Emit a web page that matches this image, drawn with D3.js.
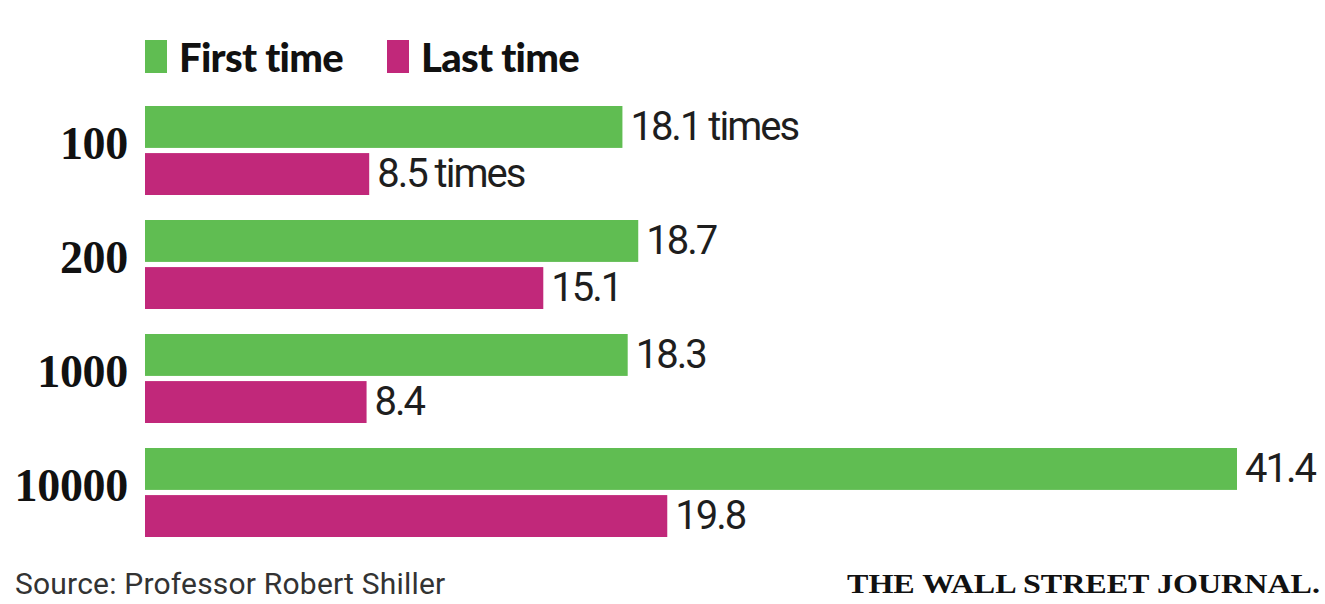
<!DOCTYPE html>
<html>
<head>
<meta charset="utf-8">
<script src="https://cdn.jsdelivr.net/npm/d3@7/dist/d3.min.js"></script>
<style>
  html, body { margin: 0; padding: 0; background: #fff; }
  svg { display: block; }
</style>
</head>
<body>
<svg id="chart" width="1325" height="604"></svg>
<script>
// Number of trials and how many times the stock repeated them
const categories = ["100", "200", "1000", "10000"];
const seriesNames = ["First time", "Last time"];
const firstTime = [18.1, 18.7, 18.3, 41.4];
const lastTime = [8.5, 15.1, 8.4, 19.8];
const valueLabels = [
  ["18.1 times", "18.7", "18.3", "41.4"],
  ["8.5 times", "15.1", "8.4", "19.8"]
];
const colors = ["#60bd52", "#c1287a"];

const svg = d3.select("#chart");
const values = [firstTime, lastTime];

const x = d3.scaleLinear().domain([0, 41.4]).range([145, 1237]);
const y = d3.scaleBand().domain(categories).range([106, 537]).paddingInner(25 / 114).paddingOuter(0);
const ySub = d3.scaleBand().domain(seriesNames).range([0, y.bandwidth()]).paddingInner(0.11);

const condensed = "Roboto, 'Liberation Sans', sans-serif";

// Legend
const legend = svg.append("g");
const legendX = [145, 387];
seriesNames.forEach((name, i) => {
  legend.append("rect")
    .attr("x", legendX[i]).attr("y", 40).attr("width", 22).attr("height", 33)
    .attr("fill", colors[i]);
  legend.append("text")
    .attr("x", legendX[i] + 34).attr("y", 72)
    .attr("font-family", "Lato, sans-serif").attr("font-weight", 900)
    .attr("font-size", 40).attr("letter-spacing", -0.7)
    .attr("fill", "#111")
    .text(name);
});

// Category labels
svg.append("g").selectAll("text").data(categories).join("text")
  .attr("x", 128)
  .attr("y", d => y(d) + y.bandwidth() / 2 + 8)
  .attr("text-anchor", "end")
  .attr("font-family", "'Liberation Serif', 'DejaVu Serif', serif")
  .attr("font-weight", "bold")
  .attr("font-size", 46)
  .attr("letter-spacing", -0.3)
  .attr("fill", "#111")
  .text(d => d);

// Bars and value labels
seriesNames.forEach((name, s) => {
  const g = svg.append("g");
  g.selectAll("rect").data(categories).join("rect")
    .attr("x", x(0))
    .attr("y", d => y(d) + ySub(name))
    .attr("width", (d, i) => x(values[s][i]) - x(0))
    .attr("height", ySub.bandwidth())
    .attr("fill", colors[s]);
  g.selectAll("text").data(categories).join("text")
    .attr("x", (d, i) => x(values[s][i]) + 8)
    .attr("y", d => y(d) + ySub(name) + ySub.bandwidth() / 2 + 13)
    .attr("font-family", condensed)
    .attr("font-size", 40)
    .attr("letter-spacing", -2)
    .attr("fill", "#1e1e1e")
    .text((d, i) => valueLabels[s][i]);
});

// Footer
svg.append("text")
  .attr("x", 15).attr("y", 594)
  .attr("font-family", condensed)
  .attr("font-size", 30)
  .attr("letter-spacing", 0.2)
  .attr("fill", "#333")
  .text("Source: Professor Robert Shiller");

svg.append("text")
  .attr("x", 847).attr("y", 593)
  .attr("font-family", "'Liberation Serif', 'DejaVu Serif', serif")
  .attr("font-weight", "bold")
  .attr("font-size", 27)
  .attr("textLength", 473)
  .attr("lengthAdjust", "spacingAndGlyphs")
  .attr("fill", "#111")
  .text("THE WALL STREET JOURNAL.");
</script>
</body>
</html>
